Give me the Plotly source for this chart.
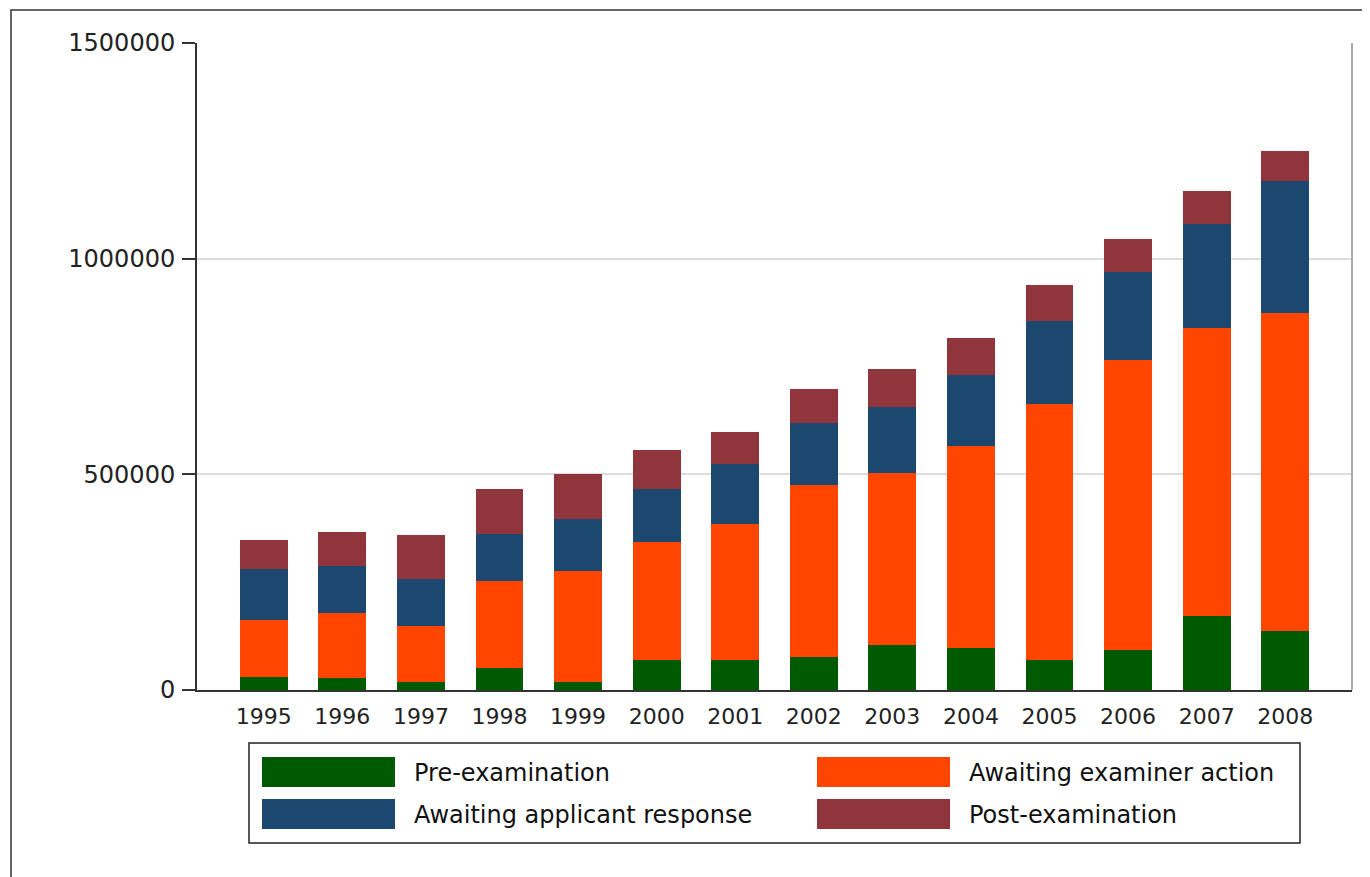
import plotly.graph_objects as go

YEARS = ["1995", "1996", "1997", "1998", "1999", "2000", "2001",
         "2002", "2003", "2004", "2005", "2006", "2007", "2008"]

PRE_EXAM = [31000, 27000, 18500, 50000, 18500, 69000, 69000,
            77000, 104000, 97000, 69000, 93000, 171000, 136000]
AWAIT_EXAMINER = [132000, 151000, 129500, 203000, 258500, 274000, 317000,
                  399000, 399000, 469000, 594000, 671000, 668000, 739000]
AWAIT_APPLICANT = [117000, 110000, 109000, 109000, 120000, 124000, 137000,
                   144000, 153000, 164000, 192000, 204000, 242000, 304000]
POST_EXAM = [67000, 78000, 102000, 103000, 103000, 90000, 74000,
             78000, 89000, 86000, 85000, 78000, 75000, 70000]

SERIES = [
    ("Pre-examination", PRE_EXAM, "#005a00"),
    ("Awaiting examiner action", AWAIT_EXAMINER, "#ff4500"),
    ("Awaiting applicant response", AWAIT_APPLICANT, "#1c4870"),
    ("Post-examination", POST_EXAM, "#90353b"),
]

Y_TICKS = [0, 500000, 1000000, 1500000]

# page body adds an 8px offset, so the figure is a bit smaller
OFF = 8
W, H = 1370 - OFF, 877 - OFF
L, R, T, B = 197, 1352, 43, 690  # plot area in screen pixels


def px_x(x):
    return (x - L) / (R - L)


def px_y(y):
    return (B - y) / (B - T)


FONT = "DejaVu Sans, Liberation Sans, Arial"

fig = go.Figure()

for name, vals, col in SERIES:
    fig.add_trace(go.Bar(
        x=YEARS, y=vals, name=name,
        marker=dict(color=col, line=dict(width=0)),
        showlegend=False
    ))

shapes = []
annotations = []

# outer frame (right edge falls outside the page)
shapes.append(dict(type="rect", xref="paper", yref="paper",
                   x0=px_x(11), x1=px_x(1400), y0=px_y(900), y1=px_y(10),
                   line=dict(color="#333", width=1.5), layer="below"))
# right border of plot
shapes.append(dict(type="line", xref="paper", yref="paper",
                   x0=1, x1=1, y0=0, y1=1,
                   line=dict(color="#aaa", width=2)))
# legend box
shapes.append(dict(type="rect", xref="paper", yref="paper",
                   x0=px_x(249), x1=px_x(1300), y0=px_y(843), y1=px_y(743),
                   line=dict(color="#222", width=1.5)))

legend_pos = [(262, 757), (817, 757), (262, 799), (817, 799)]
for (name, vals, col), (lx, ly) in zip(SERIES, legend_pos):
    shapes.append(dict(type="rect", xref="paper", yref="paper",
                       x0=px_x(lx), x1=px_x(lx + 133),
                       y0=px_y(ly + 30), y1=px_y(ly),
                       fillcolor=col, line=dict(width=0)))
    annotations.append(dict(xref="paper", yref="paper",
                            x=px_x(lx + 150), y=px_y(ly + 16),
                            text=name, showarrow=False,
                            xanchor="left", yanchor="middle",
                            font=dict(size=24, color="#111", family=FONT)))

fig.update_layout(
    width=W, height=H,
    barmode="stack",
    bargap=0.39,
    paper_bgcolor="white",
    plot_bgcolor="white",
    margin=dict(l=L - OFF, r=1370 - R, t=T - OFF, b=877 - B, pad=0),
    font=dict(family=FONT, size=22, color="#222"),
    shapes=shapes,
    annotations=annotations,
    xaxis=dict(
        type="category",
        range=[-0.85, 13.85],
        showgrid=False,
        showline=True, linecolor="#333", linewidth=2,
        ticks="", ticklabelstandoff=6,
        tickfont=dict(size=22),
    ),
    yaxis=dict(
        range=[0, 1500000],
        tickvals=Y_TICKS,
        ticktext=[str(v) for v in Y_TICKS],
        tickfont=dict(size=24),
        showgrid=True, gridcolor="#dcdcdc", gridwidth=2,
        showline=True, linecolor="#333", linewidth=2,
        ticks="outside", ticklen=13, tickwidth=2, tickcolor="#333",
        ticklabelstandoff=2,
        zeroline=False,
    ),
)

fig.write_html("out.html")
